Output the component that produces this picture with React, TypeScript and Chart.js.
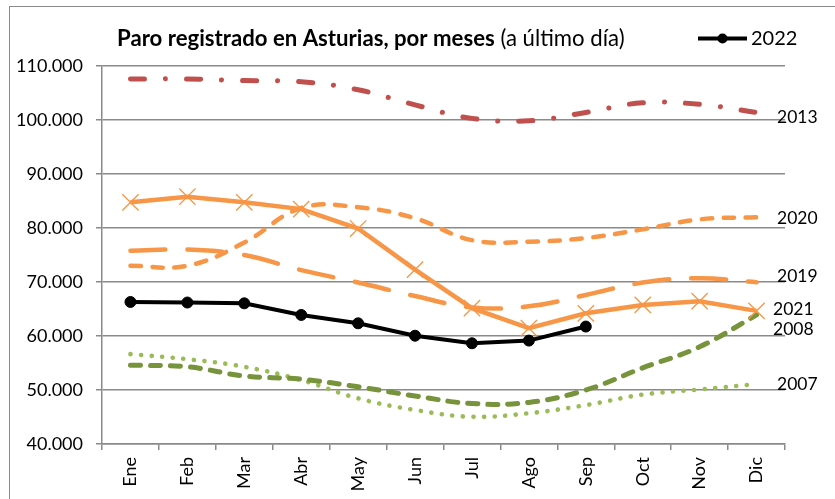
import React, { useEffect, useRef } from 'react';
import { Chart, registerables } from 'chart.js';

Chart.register(...registerables);

// ---------- data ----------
const MONTHS = ['Ene', 'Feb', 'Mar', 'Abr', 'May', 'Jun', 'Jul', 'Ago', 'Sep', 'Oct', 'Nov', 'Dic'];

const PARO_2022 = [66300, 66200, 66050, 63900, 62350, 60050, 58650, 59150, 61750, null, null, null];
const PARO_2021 = [84750, 85800, 84750, 83500, 79900, 72300, 65150, 61450, 64200, 65750, 66450, 64650];
const PARO_2020 = [73000, 73000, 77300, 83700, 83850, 81800, 77750, 77450, 78150, 79750, 81600, 82000];
const PARO_2019 = [75800, 76000, 75000, 72200, 69900, 67400, 65300, 65500, 67600, 69900, 70700, 69950];
const PARO_2013 = [107600, 107600, 107300, 107100, 105600, 102800, 100300, 99850, 101400, 103200, 102900, 101400];
const PARO_2008 = [54600, 54300, 52600, 52000, 50600, 48900, 47500, 47700, 50000, 54100, 58000, 63900];
const PARO_2007 = [56650, 55700, 54300, 51850, 48450, 46300, 45050, 45700, 47200, 49150, 50100, 51100];

const Y_MIN = 40000;
const Y_MAX = 110000;
const Y_STEP = 10000;

const TITLE_BOLD = 'Paro registrado en Asturias, por meses';
const TITLE_NORMAL = ' (a último día)';
const LEGEND_LABEL = '2022';

// ---------- style ----------
const FONT = 'Lato, "Open Sans", "DejaVu Sans", sans-serif';
const GRID = '#8a8a8a';
const ORANGE = '#F79646';
const RED = '#C0504D';
const OLIVE = '#77933C';
const LGREEN = '#9BBB59';

const fmt = (v: number) => String(v).replace(/\B(?=(\d{3})+(?!\d))/g, '.');

const decoPlugin = {
  id: 'deco',
  afterDraw(chart: any) {
    const ctx = chart.ctx as CanvasRenderingContext2D;
    const area = chart.chartArea;
    ctx.save();
    // outer frame
    ctx.strokeStyle = GRID;
    ctx.lineWidth = 1;
    ctx.strokeRect(9.5, 6.5, 2000, 2000);

    // title (bold + normal), fitted to its width
    const titleLeft = 117;
    const titleWidth = 508;
    const base = 20;
    ctx.font = `bold ${base}px ${FONT}`;
    const wb = ctx.measureText(TITLE_BOLD).width;
    ctx.font = `${base}px ${FONT}`;
    const wn = ctx.measureText(TITLE_NORMAL).width;
    const size = (base * titleWidth) / (wb + wn);
    ctx.fillStyle = '#000';
    ctx.textBaseline = 'alphabetic';
    ctx.textAlign = 'left';
    ctx.font = `bold ${size}px ${FONT}`;
    ctx.fillText(TITLE_BOLD, titleLeft, 46);
    const wb2 = ctx.measureText(TITLE_BOLD).width;
    ctx.font = `${size}px ${FONT}`;
    ctx.fillText(TITLE_NORMAL, titleLeft + wb2, 46);

    // legend for 2022
    const ly = 38.5;
    ctx.strokeStyle = '#000';
    ctx.lineWidth = 4;
    ctx.lineCap = 'butt';
    ctx.beginPath();
    ctx.moveTo(698, ly);
    ctx.lineTo(747, ly);
    ctx.stroke();
    ctx.fillStyle = '#000';
    ctx.beginPath();
    ctx.arc(722.5, ly, 5, 0, Math.PI * 2);
    ctx.fill();
    ctx.font = `20px ${FONT}`;
    ctx.fillText(LEGEND_LABEL, 751, 45);

    // end labels
    ctx.font = `17.5px ${FONT}`;
    ctx.textBaseline = 'middle';
    chart.data.datasets.forEach((ds: any, i: number) => {
      if (!ds.endLabel) return;
      const meta = chart.getDatasetMeta(i);
      const pts = meta.data;
      const last = pts[pts.length - 1];
      ctx.fillStyle = '#000';
      ctx.fillText(ds.label, area.right + ds.endLabel.dx, last.y + ds.endLabel.dy);
    });
    ctx.restore();
  },
};

export default function App() {
  const ref = useRef<HTMLCanvasElement | null>(null);

  useEffect(() => {
    document.body.style.margin = '0';
    const canvas = ref.current;
    if (!canvas) return;

    const chart = new Chart(canvas, {
      type: 'line',
      data: {
        labels: MONTHS,
        datasets: [
          {
            label: '2022',
            data: PARO_2022,
            borderColor: '#000',
            backgroundColor: '#000',
            borderWidth: 4,
            pointStyle: 'circle',
            pointRadius: 5.5,
            pointBorderWidth: 1,
            pointBackgroundColor: '#000',
            pointBorderColor: '#000',
            tension: 0,
            spanGaps: false,
          },
          {
            label: '2021',
            data: PARO_2021,
            borderColor: ORANGE,
            backgroundColor: ORANGE,
            borderWidth: 4.5,
            pointStyle: 'crossRot',
            pointRadius: 11.5,
            pointBorderWidth: 1.3,
            pointBorderColor: ORANGE,
            tension: 0,
            endLabel: { dx: -12, dy: -2 },
          },
          {
            label: '2020',
            data: PARO_2020,
            borderColor: ORANGE,
            borderWidth: 4.5,
            borderDash: [10.5, 11.5],
            borderCapStyle: 'round',
            pointRadius: 0,
            tension: 0.4,
            endLabel: { dx: -8, dy: 0.7 },
          },
          {
            label: '2019',
            data: PARO_2019,
            borderColor: ORANGE,
            borderWidth: 4.5,
            borderDash: [35, 22],
            borderCapStyle: 'round',
            pointRadius: 0,
            tension: 0.4,
            endLabel: { dx: -8, dy: -5.6 },
          },
          {
            label: '2013',
            data: PARO_2013,
            borderColor: RED,
            borderWidth: 5,
            borderDash: [14, 21, 0.1, 21],
            borderCapStyle: 'round',
            pointRadius: 0,
            tension: 0.4,
            endLabel: { dx: -8, dy: 4.5 },
          },
          {
            label: '2008',
            data: PARO_2008,
            borderColor: OLIVE,
            borderWidth: 5,
            borderDash: [10, 10],
            borderCapStyle: 'round',
            pointRadius: 0,
            tension: 0.4,
            endLabel: { dx: -12, dy: 14.7 },
          },
          {
            label: '2007',
            data: PARO_2007,
            borderColor: LGREEN,
            borderWidth: 4.6,
            borderDash: [0.1, 10.5],
            borderCapStyle: 'round',
            pointRadius: 0,
            tension: 0.4,
            endLabel: { dx: -8, dy: 0.5 },
          },
        ] as any,
      },
      options: {
        responsive: false,
        animation: false,
        maintainAspectRatio: false,
        layout: { padding: { top: 66, right: 50, left: 0, bottom: 0 } },
        plugins: {
          legend: { display: false },
          title: { display: false },
          tooltip: { enabled: false },
        },
        scales: {
          x: {
            offset: true,
            grid: {
              offset: true,
              drawOnChartArea: false,
              drawTicks: true,
              tickLength: 6,
              color: GRID,
              lineWidth: 1.5,
            },
            border: { display: true, color: GRID, width: 1.5 },
            ticks: {
              minRotation: 90,
              maxRotation: 90,
              autoSkip: false,
              padding: 7,
              color: '#000',
              font: { family: FONT, size: 18 },
            },
            afterFit: (s: any) => {
              s.height = 55;
            },
          },
          y: {
            min: Y_MIN,
            max: Y_MAX,
            ticks: {
              stepSize: Y_STEP,
              padding: 13,
              color: '#000',
              font: { family: FONT, size: 18 },
              callback: (v: any) => fmt(Number(v)),
            },
            grid: { color: GRID, lineWidth: 1.5, tickLength: 6 },
            border: { display: true, color: GRID, width: 1.5 },
            afterFit: (s: any) => {
              s.width = 102;
            },
          },
        },
      } as any,
      plugins: [decoPlugin],
    });

    return () => chart.destroy();
  }, []);

  return (
    <canvas
      ref={ref}
      width={835}
      height={499}
      style={{ display: 'block', width: 835, height: 499 }}
    />
  );
}
